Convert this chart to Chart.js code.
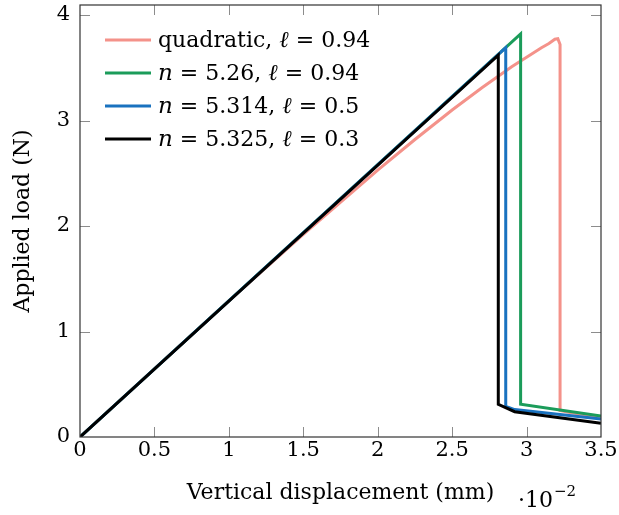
<!DOCTYPE html>
<html>
<head>
<meta charset="utf-8">
<script src="https://cdn.jsdelivr.net/npm/chart.js@4.4.1/dist/chart.umd.min.js"></script>
<style>
  body { margin: 0; background: #fff; }
</style>
</head>
<body>
<canvas id="loadChart" width="619" height="515"></canvas>
<script>
// ---------- data (displacement in 1e-2 mm, load in N) ---------- //
const quadX = [0, 0.5, 1, 1.5, 2, 2.25, 2.5, 2.7, 2.9, 3.0, 3.1, 3.15, 3.19, 3.21, 3.225, 3.225, 3.3, 3.5];
const quadY = [0, 0.645, 1.29, 1.92, 2.53, 2.82, 3.10, 3.31, 3.51, 3.60, 3.69, 3.73, 3.77, 3.775, 3.72, 0.25, 0.23, 0.19];

const n526X = [0, 2.96, 2.96, 3.5];
const n526Y = [0, 3.82, 0.31, 0.20];

const n5314X = [0, 2.86, 2.86, 2.92, 3.5];
const n5314Y = [0, 3.69, 0.29, 0.26, 0.17];

const n5325X = [0, 2.81, 2.81, 2.92, 3.5];
const n5325Y = [0, 3.62, 0.31, 0.24, 0.13];

const xTicks = [0, 0.5, 1, 1.5, 2, 2.5, 3, 3.5];
const yTicks = [0, 1, 2, 3, 4];

// legend text pieces: [text, italic]
const legendLabels = [
  [["quadratic, ", false], ["\u2113", true], [" = 0.94", false]],
  [["n", true], [" = 5.26, ", false], ["\u2113", true], [" = 0.94", false]],
  [["n", true], [" = 5.314, ", false], ["\u2113", true], [" = 0.5", false]],
  [["n", true], [" = 5.325, ", false], ["\u2113", true], [" = 0.3", false]]
];
const legendColors = ["#f4928a", "#1b9c5a", "#1a72bf", "#000000"];

const FONT = "'DejaVu Serif', serif";
const pts = (xs, ys) => xs.map((x, i) => ({ x: x, y: ys[i] }));

// box, inward ticks, legend and exponent label
const decorations = {
  id: "decorations",
  afterDraw(chart) {
    const ctx = chart.ctx;
    const a = chart.chartArea;
    const sx = chart.scales.x, sy = chart.scales.y;
    ctx.save();
    // inward tick marks on all four sides
    ctx.strokeStyle = "#8c8c8c";
    ctx.lineWidth = 1;
    ctx.beginPath();
    xTicks.slice(1, -1).forEach(v => {
      const px = Math.round(sx.getPixelForValue(v)) + 0.5;
      ctx.moveTo(px, a.bottom); ctx.lineTo(px, a.bottom - 10);
      ctx.moveTo(px, a.top); ctx.lineTo(px, a.top + 10);
    });
    yTicks.slice(1).forEach(v => {
      const py = Math.round(sy.getPixelForValue(v)) + 0.5;
      ctx.moveTo(a.left, py); ctx.lineTo(a.left + 10, py);
      ctx.moveTo(a.right, py); ctx.lineTo(a.right - 10, py);
    });
    ctx.stroke();
    // frame
    ctx.strokeStyle = "#333";
    ctx.lineWidth = 1.2;
    ctx.strokeRect(a.left, a.top, a.right - a.left, a.bottom - a.top);

    // legend
    ctx.textBaseline = "middle";
    ctx.textAlign = "left";
    const rows = [40, 73, 106, 139];
    legendLabels.forEach((parts, i) => {
      const y = rows[i];
      ctx.strokeStyle = legendColors[i];
      ctx.lineWidth = 3;
      ctx.beginPath();
      ctx.moveTo(105, y); ctx.lineTo(151, y);
      ctx.stroke();
      let x = 158;
      ctx.fillStyle = "#000";
      parts.forEach(([t, it]) => {
        ctx.font = it ? "italic 23px " + FONT : "22px " + FONT;
        ctx.fillText(t, x, y + 1);
        x += ctx.measureText(t).width;
      });
    });

    // exponent under the x axis
    ctx.textBaseline = "alphabetic";
    ctx.font = "22px " + FONT;
    ctx.fillText("\u00b710", 518, 507);
    const w = ctx.measureText("\u00b710").width;
    ctx.font = "15px " + FONT;
    ctx.fillText("\u22122", 518 + w + 1, 496);
    ctx.restore();
  }
};

const mkSet = (data, color) => ({
  data: data,
  borderColor: color,
  backgroundColor: color,
  borderWidth: 3,
  pointRadius: 0,
  tension: 0,
  fill: false
});

const tickText = v => String(Number(v.toFixed(2)));

// black drawn on top, pink underneath
new Chart(document.getElementById("loadChart").getContext("2d"), {
  type: "line",
  data: {
    datasets: [
      mkSet(pts(n5325X, n5325Y), legendColors[3]),
      mkSet(pts(n5314X, n5314Y), legendColors[2]),
      mkSet(pts(n526X, n526Y), legendColors[1]),
      mkSet(pts(quadX, quadY), legendColors[0])
    ]
  },
  options: {
    responsive: false,
    animation: false,
    devicePixelRatio: 1,
    layout: { padding: { top: 5, right: 18, left: 0, bottom: 0 } },
    plugins: {
      legend: { display: false },
      tooltip: { enabled: false }
    },
    scales: {
      x: {
        type: "linear",
        min: 0,
        max: 3.5,
        grid: { display: false, drawTicks: false },
        border: { display: false },
        ticks: {
          stepSize: 0.5,
          includeBounds: false,
          maxRotation: 0,
          padding: 1,
          color: "#000",
          font: { family: FONT, size: 21 },
          callback: tickText
        },
        title: {
          display: true,
          text: "Vertical displacement (mm)",
          color: "#000",
          font: { family: FONT, size: 22 },
          padding: { top: 0, bottom: 9 }
        },
        afterFit(s) { s.height = 78; s.paddingLeft = 0; s.paddingRight = 0; }
      },
      y: {
        min: 0,
        max: 4.095,
        grid: { display: false, drawTicks: false },
        border: { display: false },
        ticks: {
          stepSize: 1,
          includeBounds: false,
          padding: 10,
          color: "#000",
          font: { family: FONT, size: 21 },
          callback: tickText
        },
        title: {
          display: true,
          text: "Applied load (N)",
          color: "#000",
          font: { family: FONT, size: 22 },
          padding: { top: 10, bottom: 0 }
        },
        afterFit(s) { s.width = 80; s.paddingTop = 0; s.paddingBottom = 0; }
      }
    }
  },
  plugins: [decorations]
});
</script>
</body>
</html>
